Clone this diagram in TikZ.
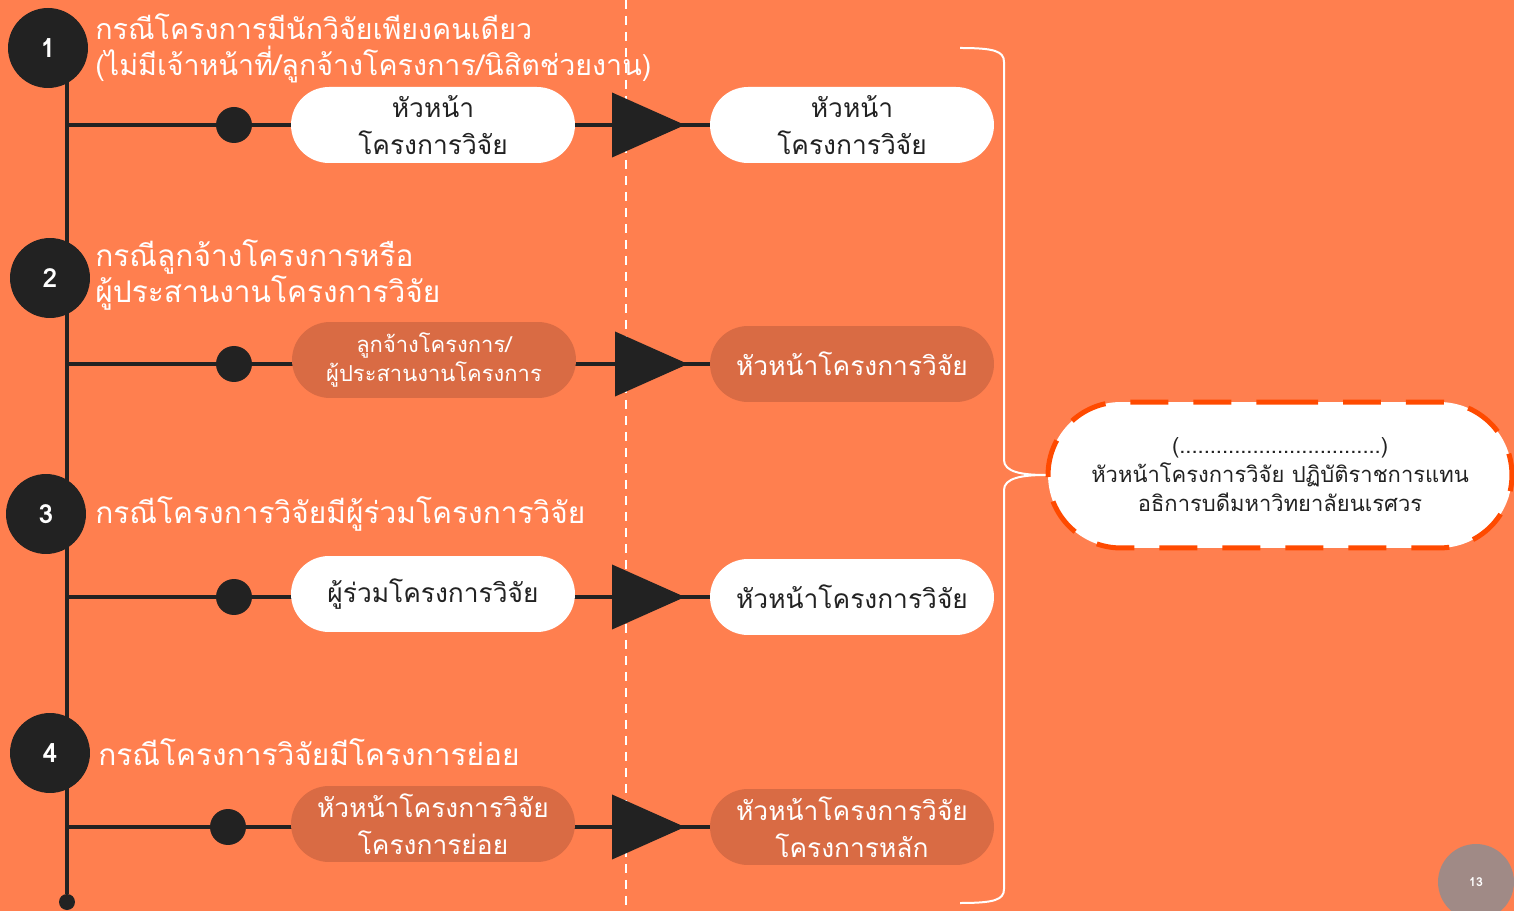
\documentclass[tikz,border=0pt]{standalone}
\usepackage{fontspec}
\setmainfont{Loma}[Script=Thai]
\usetikzlibrary{shapes.misc, arrows.meta}

\definecolor{coral}{HTML}{FF7F4F}
\definecolor{rust}{HTML}{D96B44}
\definecolor{ink}{HTML}{222222}
\definecolor{flame}{HTML}{FF4A00}
\definecolor{stone}{HTML}{A08A86}

\pgfdeclarelayer{back}
\pgfdeclarelayer{lines}
\pgfsetlayers{back,lines,main}

\tikzset{
  numdot/.style={circle, fill=ink, minimum size=1.6cm, inner sep=0pt, text=white, font=\bfseries\fontsize{15}{15}\selectfont},
  title/.style={anchor=west, text=white, align=left, inner sep=0pt, font=\fontsize{17}{20.5}\selectfont},
  pill/.style={rounded rectangle, minimum width=5.68cm, minimum height=1.52cm, align=center, inner sep=0pt, font=\fontsize{15}{21}\selectfont},
  lightpill/.style={pill, fill=white, text=ink},
  darkpill/.style={pill, fill=rust, text=white},
  smallpill/.style={darkpill, font=\fontsize{12.5}{16.5}\selectfont},
  joint/.style={circle, fill=ink, minimum size=0.72cm, inner sep=0pt},
  conn/.style={draw=ink, line width=0.08cm},
  hand/.style={conn, -{Triangle[length=1.46cm, width=1.28cm]}},
  signbox/.style={rounded rectangle, fill=white, draw=flame, line width=0.1cm, dash pattern=on 0.76cm off 0.5cm, minimum width=9.28cm, minimum height=2.92cm, align=center, inner sep=0pt, text=ink, font=\fontsize{12.5}{16.5}\selectfont},
  pagemark/.style={circle, fill=stone, minimum size=1.52cm, inner sep=0pt, text=white, font=\bfseries\fontsize{7}{7}\selectfont},
}

\begin{document}
\begin{tikzpicture}[x=0.02cm, y=-0.02cm]
\useasboundingbox (0,0) rectangle (1514,911);
\begin{pgfonlayer}{back}
\fill[coral] (0,0) rectangle (1514,911);
\end{pgfonlayer}

% Case 1
\node[numdot] (n1) at (48,48) {1};
\node[title, font=\fontsize{16.3}{20.5}\selectfont] (h1) at (95,48) {กรณีโครงการมีนักวิจัยเพียงคนเดียว\\(ไม่มีเจ้าหน้าที่/ลูกจ้างโครงการ/นิสิตช่วยงาน)};
\node[joint] (d1) at (234,125) {};
\node[lightpill] (l1) at (433,125) {หัวหน้า\\โครงการวิจัย};
\node[lightpill] (r1) at (852,125) {หัวหน้า\\โครงการวิจัย};
\coordinate (t1) at (685,125);

% Case 2
\node[numdot] (n2) at (50,278) {2};
\node[title] (h2) at (95,275) {กรณีลูกจ้างโครงการหรือ\\ผู้ประสานงานโครงการวิจัย};
\node[joint] (d2) at (234,364) {};
\node[smallpill] (l2) at (434,360) {ลูกจ้างโครงการ/\\ผู้ประสานงานโครงการ};
\node[darkpill] (r2) at (852,364) {หัวหน้าโครงการวิจัย};
\coordinate (t2) at (688,364);

% Case 3
\node[numdot] (n3) at (46,514) {3};
\node[title] (h3) at (95,514) {กรณีโครงการวิจัยมีผู้ร่วมโครงการวิจัย};
\node[joint] (d3) at (234,597) {};
\node[lightpill] (l3) at (433,594) {ผู้ร่วมโครงการวิจัย};
\node[lightpill] (r3) at (852,597) {หัวหน้าโครงการวิจัย};
\coordinate (t3) at (685,597);

% Case 4
\node[numdot] (n4) at (50,753) {4};
\node[title] (h4) at (98,752) {กรณีโครงการวิจัยมีโครงการย่อย};
\node[joint] (d4) at (228,827) {};
\node[darkpill] (l4) at (433,824) {หัวหน้าโครงการวิจัย\\โครงการย่อย};
\node[darkpill] (r4) at (852,827) {หัวหน้าโครงการวิจัย\\โครงการหลัก};
\coordinate (t4) at (685,827);

% Spine end
\node[joint, minimum size=0.32cm] (end) at (67,902) {};

% Signer
\node[signbox] (sign) at (1280,475) {(.................................)\\หัวหน้าโครงการวิจัย ปฏิบัติราชการแทน\\อธิการบดีมหาวิทยาลัยนเรศวร};

% Brace
\coordinate (btop) at (960,48);
\coordinate (bbot) at (960,903);
\draw[white, line width=0.04cm] (btop) .. controls (994,48) and (1004,51) .. (1004,62) -- (1004,460)
  .. controls (1004,472) and (1022,475) .. (sign.west)
  .. controls (1022,475) and (1004,478) .. (1004,490) -- (1004,889)
  .. controls (1004,900) and (994,903) .. (bbot);

% Page number
\begin{scope}
\clip (0,0) rectangle (1514,911);
\node[pagemark] (pg) at (1476,882) {13};
\end{scope}

\begin{pgfonlayer}{lines}
\draw[white, line width=0.04cm, dash pattern=on 0.18cm off 0.14cm] (626,0) -- (626,911);
\draw[conn] (end |- n1) -- (end);
\draw[conn] (end |- d1) -- (r1);
\draw[hand] (l1.east) -- (t1);
\draw[conn] (end |- d2) -- (r2);
\draw[hand] (l2.east |- r2) -- (t2);
\draw[conn] (end |- d3) -- (r3);
\draw[hand] (l3.east |- r3) -- (t3);
\draw[conn] (end |- d4) -- (r4);
\draw[hand] (l4.east |- r4) -- (t4);
\end{pgfonlayer}
\end{tikzpicture}
\end{document}
